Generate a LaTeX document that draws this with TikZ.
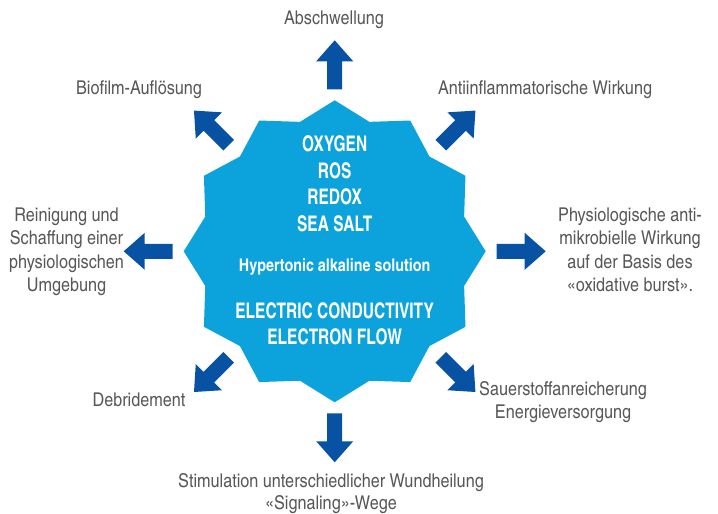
\documentclass[tikz,border=0pt]{standalone}
\usepackage{fontspec}
\setmainfont{texgyreheroscn}[Extension=.otf, UprightFont=*-regular, BoldFont=*-bold, UprightFeatures={FakeStretch=1.04}]
\newfontfamily\corefont{texgyreheroscn-bold.otf}[FakeStretch=0.88]
\newfontfamily\subfont{texgyreheroscn-bold.otf}
\usetikzlibrary{calc}
\definecolor{starblue}{RGB}{12,163,220}
\definecolor{arrowblue}{RGB}{8,82,163}
\definecolor{labelgray}{RGB}{88,88,88}
\tikzset{
  bigarrow/.pic={\fill[arrowblue] (0,-7.5) -- (28,-7.5) -- (28,-18.5) -- (49,0) -- (28,18.5) -- (28,7.5) -- (0,7.5) -- cycle;},
  lbl/.style={text=labelgray, font=\fontsize{19}{23.5}\selectfont, align=center, inner sep=0pt, anchor=base},
  core/.style={text=white, font=\corefont\fontsize{21.5}{26.7}\selectfont, align=center, inner sep=0pt, anchor=base},
  subcore/.style={text=white, font=\subfont\fontsize{17.5}{20}\selectfont, inner sep=0pt, anchor=base}
}
\begin{document}
\begin{tikzpicture}[x=1pt,y=1pt]
\useasboundingbox (0,0) rectangle (718,514);
\coordinate (c) at (334.7,262.7);
% star
\fill[starblue, shift={(c)}] (-15:134) \foreach \a in {0,30,...,330} { -- (\a:151) -- (\a+15:134) } -- cycle;
% arrows
\foreach \ang/\d in {90/162,0/162,180/162,270/162,45/150,135/150,225/150,315/150}
  \pic[rotate=\ang] at ($(c)+(\ang:\d)$) {bigarrow};
% core text (anchor = baseline of last line)
\node[core] (gases) at (334.7,282.3) {OXYGEN\\ROS\\REDOX\\SEA SALT};
\node[subcore] (hyper) at (334.7,242.3) {Hypertonic alkaline solution};
\node[core] (elec) at (334.7,169) {ELECTRIC CONDUCTIVITY\\ELECTRON FLOW};
% labels
\node[lbl] (abs) at (334,489) {Abschwellung};
\node[lbl] (anti) at (545,419) {Antiinflammatorische Wirkung};
\node[lbl] (bio) at (139,419) {Biofilm-Auflösung};
\node[lbl] (rein) at (66.5,222) {Reinigung und\\Schaffung einer\\physiologischen\\Umgebung};
\node[lbl] (phys) at (630,222.3) {Physiologische anti-\\mikrobielle Wirkung\\auf der Basis des\\«oxidative burst».};
\node[lbl] (deb) at (139,107.3) {Debridement};
\node[lbl, font=\fontsize{19}{22.5}\selectfont] (sauer) at (563,95.7) {Sauerstoffanreicherung\\Energieversorgung};
\node[lbl, font=\fontsize{19}{22.7}\selectfont] (stim) at (331,4) {Stimulation unterschiedlicher Wundheilung\\«Signaling»-Wege};
\end{tikzpicture}
\end{document}
